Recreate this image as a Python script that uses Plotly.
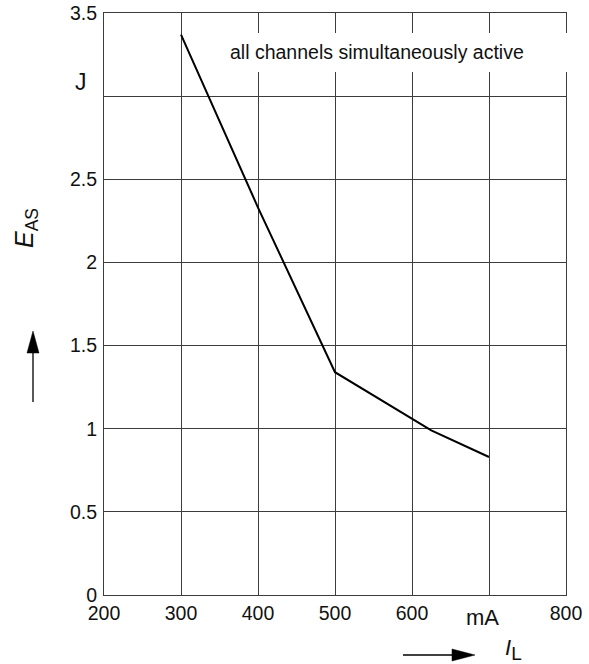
import plotly.graph_objects as go

# ---- data ----
IL_mA = [300, 400, 500, 625, 700]
EAS_J = [3.37, 2.33, 1.34, 0.99, 0.83]

x_tickvals = [200, 300, 400, 500, 600, 700, 800]
x_ticktext = ["200", "300", "400", "500", "600", "", "800"]
y_tickvals = [0, 0.5, 1, 1.5, 2, 2.5, 3, 3.5]
y_ticktext = ["0", "0.5", "1", "1.5", "2", "2.5", "", "3.5"]

W, H = 589, 664
ML, MR, MT, MB = 104, 23, 13, 69
PW, PH = W - ML - MR, H - MT - MB


def px(p):
    return (p - ML) / PW


def py(p):
    return (H - MB - p) / PH


FONT = "Liberation Sans, Arial, sans-serif"
INK = "#111111"
GRID = "#3c3c3c"

fig = go.Figure()
fig.add_trace(go.Scatter(x=IL_mA, y=EAS_J, mode="lines",
                         line=dict(color="black", width=2), hoverinfo="skip",
                         showlegend=False))

axis_common = dict(showgrid=True, gridcolor=GRID, gridwidth=1, zeroline=False,
                   showline=True, mirror=True, linecolor=GRID, linewidth=1,
                   ticks="", automargin=False, fixedrange=True,
                   tickmode="array")

fig.update_layout(
    width=W, height=H, autosize=False,
    margin=dict(l=ML, r=MR, t=MT, b=MB, pad=0, autoexpand=False),
    paper_bgcolor="white", plot_bgcolor="white",
    font=dict(family=FONT, size=19.5, color=INK),
    showlegend=False,
    xaxis=dict(range=[200, 800], tickvals=x_tickvals, ticktext=x_ticktext,
               ticklabelstandoff=1, **axis_common),
    yaxis=dict(range=[0, 3.5], tickvals=y_tickvals, ticktext=y_ticktext,
               ticklabelstandoff=2, **axis_common),
)

# white box behind the note (covers gridlines and frame, not the curve)
fig.add_annotation(x=px(201), y=py(33), xref="paper", yref="paper",
                   xanchor="left", yanchor="top", text=" ", showarrow=False,
                   width=369, height=39, bgcolor="white", borderpad=0,
                   borderwidth=0, font=dict(size=10))
fig.add_annotation(x=555, y=3.265, xref="x", yref="y",
                   text="all channels simultaneously active", showarrow=False,
                   font=dict(size=19.5, color=INK, family=FONT),
                   xanchor="center", yanchor="middle")

# unit labels
fig.add_annotation(x=px(81), y=py(82), xref="paper", yref="paper", text="J",
                   showarrow=False, font=dict(size=23, color=INK, family=FONT),
                   xanchor="center", yanchor="middle")
fig.add_annotation(x=px(482), y=py(617), xref="paper", yref="paper", text="mA",
                   showarrow=False, font=dict(size=22, color=INK, family=FONT),
                   xanchor="center", yanchor="middle")

# axis symbols
fig.add_annotation(x=px(26), y=py(228), xref="paper", yref="paper",
                   text="<i>E</i><sub>AS</sub>", textangle=-90, showarrow=False,
                   font=dict(size=25, color=INK, family=FONT),
                   xanchor="center", yanchor="middle")
fig.add_annotation(x=px(513), y=py(649), xref="paper", yref="paper",
                   text="<i>I</i><sub><span style='font-size:19px'>L</span></sub>",
                   showarrow=False, font=dict(size=22, color=INK, family=FONT),
                   xanchor="center", yanchor="middle")

# arrows
fig.add_shape(type="line", xref="paper", yref="paper",
              x0=px(33), x1=px(33), y0=py(402), y1=py(350),
              line=dict(color="black", width=1.3))
fig.add_shape(type="path", xref="paper", yref="paper",
              path=f"M {px(33)},{py(331)} L {px(27)},{py(353)} L {px(39)},{py(353)} Z",
              fillcolor="black", line=dict(color="black", width=0.5))
fig.add_shape(type="line", xref="paper", yref="paper",
              x0=px(403), x1=px(456), y0=py(655), y1=py(655),
              line=dict(color="black", width=1.3))
fig.add_shape(type="path", xref="paper", yref="paper",
              path=f"M {px(475)},{py(655)} L {px(452)},{py(649)} L {px(452)},{py(661)} Z",
              fillcolor="black", line=dict(color="black", width=0.5))

fig.write_html("out.html",
               config={"displayModeBar": False, "staticPlot": True},
               post_script="document.body.style.margin='0';"
                           "document.body.style.overflow='hidden';")
